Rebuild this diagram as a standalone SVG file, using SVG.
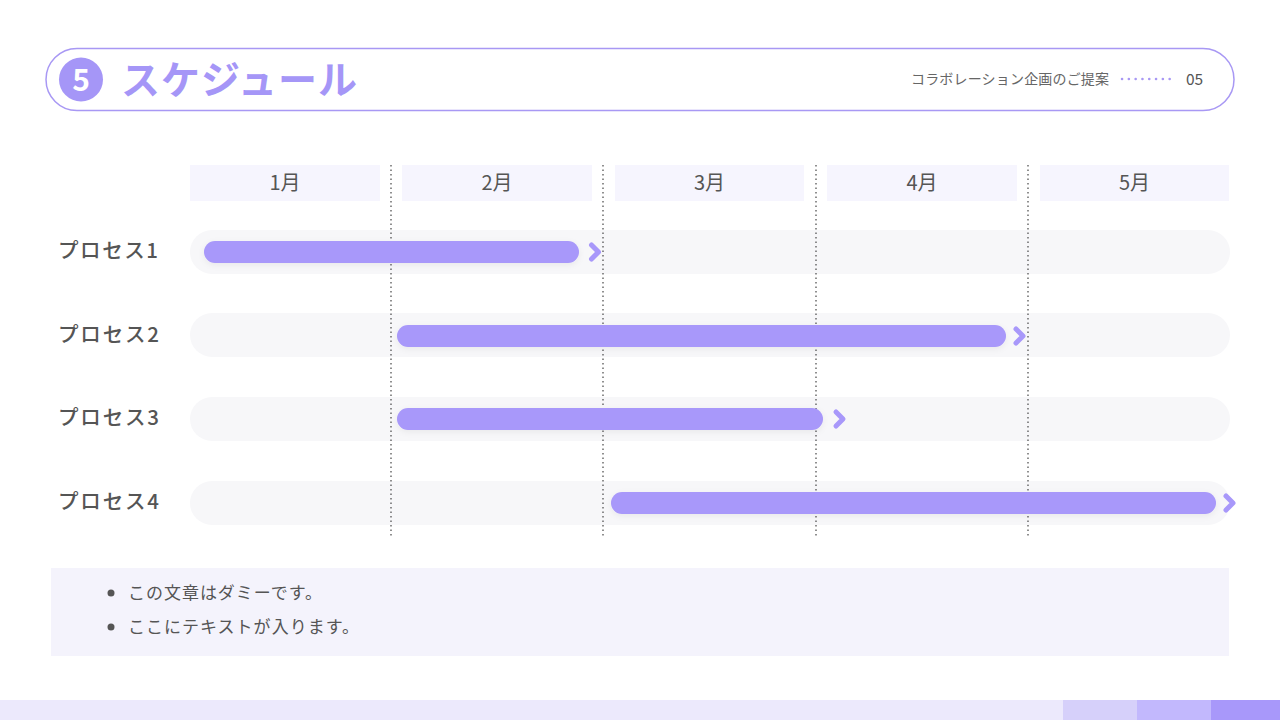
<svg xmlns="http://www.w3.org/2000/svg" width="1280" height="720" viewBox="0 0 1280 720">
<defs>
<style>
.jp{font-family:"Noto Sans CJK JP","Noto Sans",sans-serif;}
.month{fill:#F6F5FE;}
.mtxt{font-size:20px;fill:#555;text-anchor:middle;}
.lbl{font-size:20.5px;fill:#555;font-weight:500;}
.track{fill:#F7F7F9;}
.bar{fill:#A898FA;}
.chev{fill:none;stroke:#A898FA;stroke-width:5;stroke-linecap:round;stroke-linejoin:round;}
.grid{stroke:#555;stroke-width:1.3;stroke-dasharray:1.5 3;}
.note{font-size:17px;fill:#555;}
</style>
<filter id="sh" x="-5%" y="-50%" width="110%" height="200%">
<feDropShadow dx="0" dy="2" stdDeviation="3" flood-color="#000" flood-opacity="0.06"/>
</filter>
</defs>
<rect width="1280" height="720" fill="#FFFFFF"/>

<g id="header">
<rect x="46" y="48.5" width="1188" height="62" rx="31" fill="#FFFFFF" stroke="#A898F4" stroke-width="1.5"/>
<circle cx="81" cy="79.5" r="22" fill="#A596F7"/>
<text x="81" y="91" class="jp" font-size="30" font-weight="700" fill="#FFFFFF" text-anchor="middle">5</text>
<text x="121" y="94" class="jp" font-size="39" font-weight="700" fill="#A596F7" textLength="236" lengthAdjust="spacing">スケジュール</text>
<text x="911" y="84" class="jp" font-size="14" fill="#666" textLength="198" lengthAdjust="spacing">コラボレーション企画のご提案</text>
<line x1="1122" y1="79" x2="1176" y2="79" stroke="#A898F4" stroke-width="2.5" stroke-linecap="round" stroke-dasharray="0.1 6.7"/>
<text x="1186" y="85" class="jp" font-size="15.5" fill="#555">05</text>
</g>

<g id="months">
<rect class="month" x="190" y="165" width="190" height="36"/>
<rect class="month" x="402" y="165" width="190" height="36"/>
<rect class="month" x="615" y="165" width="189" height="36"/>
<rect class="month" x="827" y="165" width="190" height="36"/>
<rect class="month" x="1040" y="165" width="189" height="36"/>
<text class="jp mtxt" x="285" y="190">1月</text>
<text class="jp mtxt" x="497" y="190">2月</text>
<text class="jp mtxt" x="709.5" y="190">3月</text>
<text class="jp mtxt" x="922" y="190">4月</text>
<text class="jp mtxt" x="1134.5" y="190">5月</text>
</g>

<g id="tracks">
<rect class="track" x="190" y="230" width="1040" height="44" rx="22"/>
<rect class="track" x="190" y="313" width="1040" height="44" rx="22"/>
<rect class="track" x="190" y="397" width="1040" height="44" rx="22"/>
<rect class="track" x="190" y="481" width="1040" height="44" rx="22"/>
</g>

<g id="grid">
<line class="grid" x1="391" y1="165" x2="391" y2="538"/>
<line class="grid" x1="603" y1="165" x2="603" y2="538"/>
<line class="grid" x1="816" y1="165" x2="816" y2="538"/>
<line class="grid" x1="1028" y1="165" x2="1028" y2="538"/>
</g>

<g id="process1">
<text class="jp lbl" x="58" y="258" textLength="100" lengthAdjust="spacing">プロセス1</text>
<rect class="bar" x="204" y="241" width="375" height="22" rx="11" filter="url(#sh)"/>
<polyline class="chev" points="591.5,245 598.5,252 591.5,259"/>
</g>
<g id="process2">
<text class="jp lbl" x="58" y="342" textLength="101" lengthAdjust="spacing">プロセス2</text>
<rect class="bar" x="397" y="325" width="609" height="22" rx="11" filter="url(#sh)"/>
<polyline class="chev" points="1016,329 1023,336 1016,343"/>
</g>
<g id="process3">
<text class="jp lbl" x="58" y="425" textLength="101" lengthAdjust="spacing">プロセス3</text>
<rect class="bar" x="397" y="408" width="426" height="22" rx="11" filter="url(#sh)"/>
<polyline class="chev" points="836,412 843,419 836,426"/>
</g>
<g id="process4">
<text class="jp lbl" x="58" y="509" textLength="101" lengthAdjust="spacing">プロセス4</text>
<rect class="bar" x="611" y="492" width="605" height="22" rx="11" filter="url(#sh)"/>
<polyline class="chev" points="1226,496 1233,503 1226,510"/>
</g>

<g id="notes">
<rect x="51" y="568" width="1178" height="88" fill="#F4F3FC"/>
<circle cx="111" cy="593" r="3.5" fill="#555"/>
<circle cx="111" cy="627" r="3.5" fill="#555"/>
<text class="jp note" x="128" y="599" textLength="194" lengthAdjust="spacing">この文章はダミーです。</text>
<text class="jp note" x="128" y="633" textLength="231" lengthAdjust="spacing">ここにテキストが入ります。</text>
</g>

<g id="footer">
<rect x="0" y="700" width="1063" height="20" fill="#ECE9FC"/>
<rect x="1063" y="700" width="74" height="20" fill="#D6D0FA"/>
<rect x="1137" y="700" width="74" height="20" fill="#C2B8FD"/>
<rect x="1211" y="700" width="69" height="20" fill="#A898FA"/>
</g>
</svg>
